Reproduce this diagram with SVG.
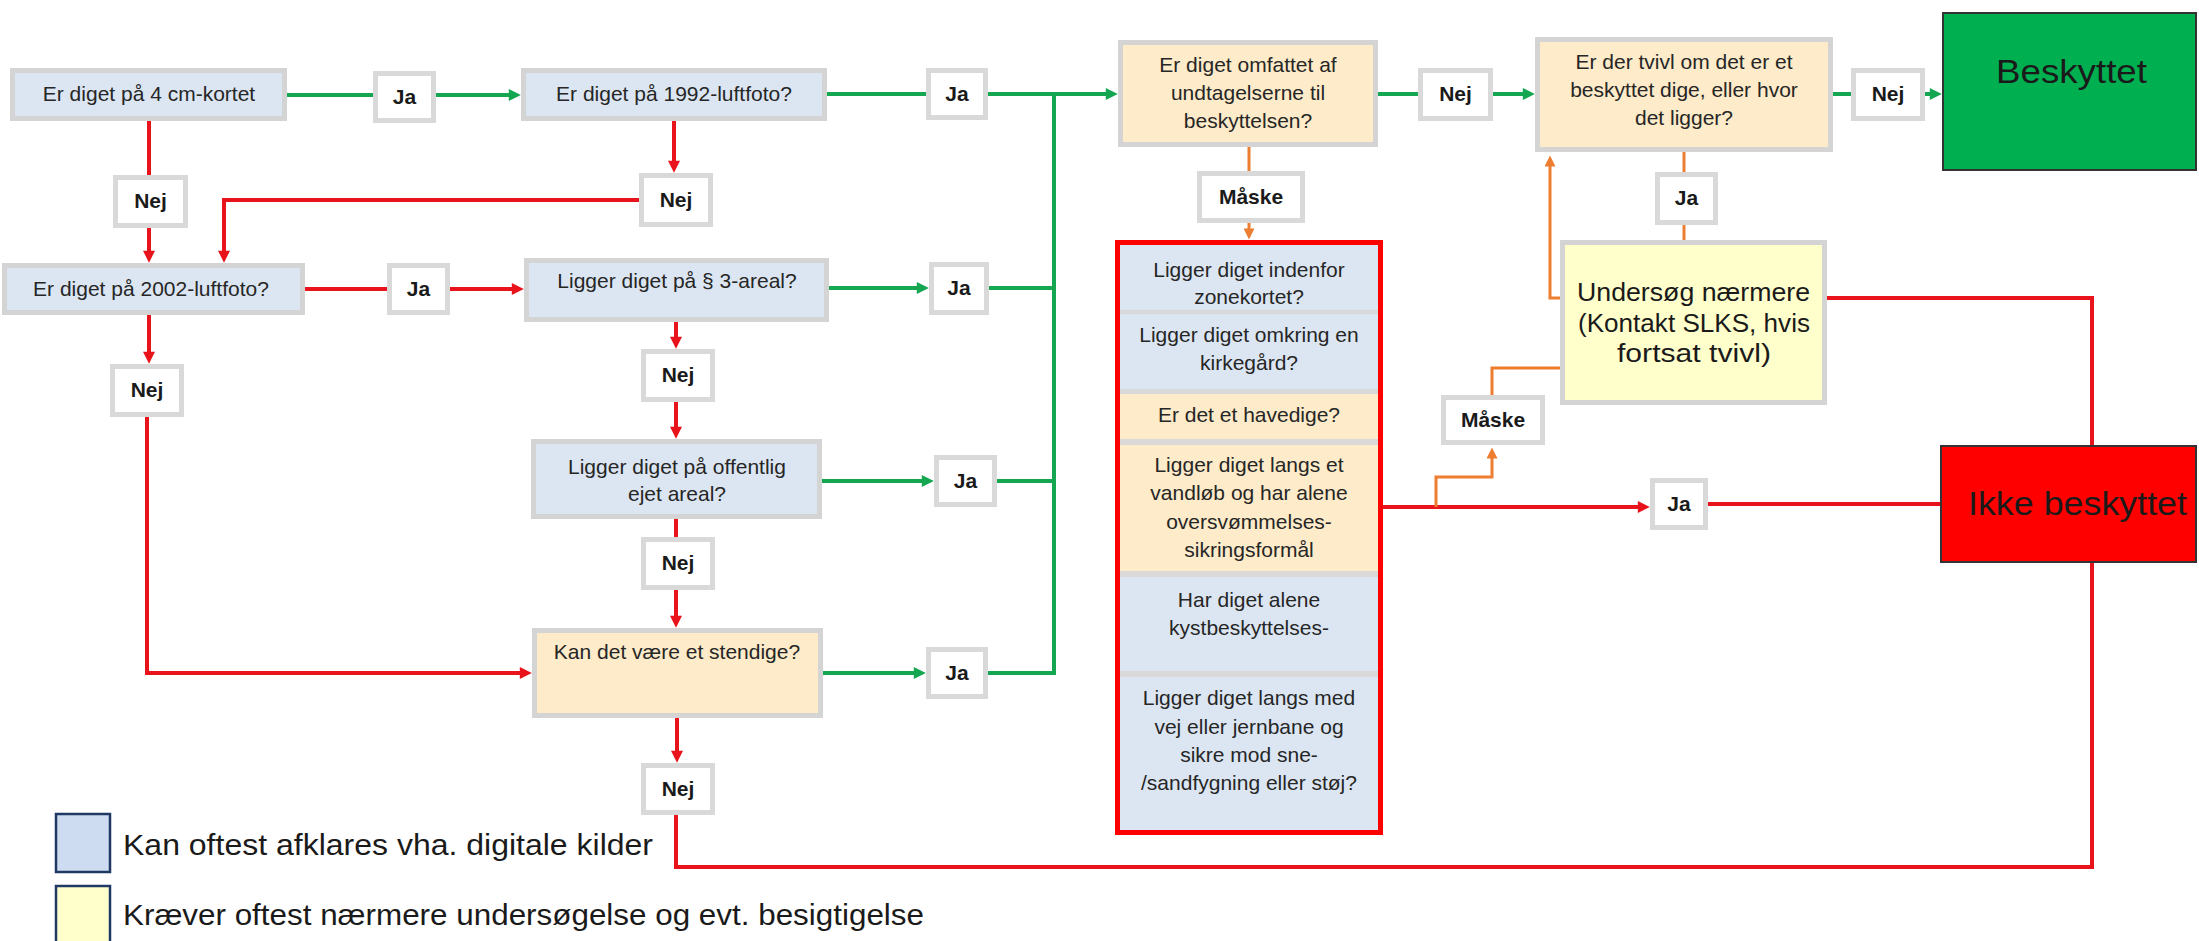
<svg xmlns="http://www.w3.org/2000/svg" width="2199" height="941" viewBox="0 0 2199 941">
<defs>
<style>
.nb{fill:#dce6f2;stroke:#d4d4d4;stroke-width:5}
.ny{fill:#fdebc9;stroke:#d4d4d4;stroke-width:5}
.nu{fill:#ffffcc;stroke:#d4d4d4;stroke-width:5}
.lb{fill:#ffffff;stroke:#d9d9d9;stroke-width:5}
.t{font-family:"Liberation Sans",Arial,sans-serif;font-size:21px;fill:#262626;text-anchor:middle}
.tb{font-family:"Liberation Sans",Arial,sans-serif;font-size:21px;font-weight:bold;fill:#1a1a1a;text-anchor:middle}
.big{font-family:"Liberation Sans",Arial,sans-serif;fill:#1a1a1a}
.g{fill:none;stroke:#14a650;stroke-width:4}
.r{fill:none;stroke:#e8131b;stroke-width:4}
.o{fill:none;stroke:#ed7d31;stroke-width:3}
</style>
<marker id="ag" viewBox="0 0 10 10" refX="6" refY="5" markerWidth="13" markerHeight="12" markerUnits="userSpaceOnUse" orient="auto"><path d="M0,0 L10,5 L0,10 z" fill="#14a650"/></marker>
<marker id="ar" viewBox="0 0 10 10" refX="6" refY="5" markerWidth="13" markerHeight="12" markerUnits="userSpaceOnUse" orient="auto"><path d="M0,0 L10,5 L0,10 z" fill="#e8131b"/></marker>
<marker id="ao" viewBox="0 0 10 10" refX="6" refY="5" markerWidth="12" markerHeight="11" markerUnits="userSpaceOnUse" orient="auto"><path d="M0,0 L10,5 L0,10 z" fill="#ed7d31"/></marker>
</defs>
<rect width="2199" height="941" fill="#ffffff"/>

<g id="connectors">
<path class="g" d="M287,95 H373"/>
<path class="g" d="M436,95 H516" marker-end="url(#ag)"/>
<path class="g" d="M827,94 H926"/>
<path class="g" d="M988,94 H1113" marker-end="url(#ag)"/>
<path class="g" d="M1054,94 V673 H988" stroke-linejoin="miter"/>
<path class="g" d="M829,288 H924" marker-end="url(#ag)"/>
<path class="g" d="M989,288 H1054"/>
<path class="g" d="M822,481 H929" marker-end="url(#ag)"/>
<path class="g" d="M997,481 H1054"/>
<path class="g" d="M823,673 H921" marker-end="url(#ag)"/>
<path class="g" d="M1378,94 H1418"/>
<path class="g" d="M1493,94 H1530" marker-end="url(#ag)"/>
<path class="g" d="M1833,94 H1851"/>
<path class="g" d="M1925,94 H1937" marker-end="url(#ag)"/>

<path class="r" d="M149,121 V175"/>
<path class="r" d="M149,228 V258" marker-end="url(#ar)"/>
<path class="r" d="M674,121 V168" marker-end="url(#ar)"/>
<path class="r" d="M639,200 H224 V258" marker-end="url(#ar)"/>
<path class="r" d="M305,289 H387"/>
<path class="r" d="M450,289 H519" marker-end="url(#ar)"/>
<path class="r" d="M149,315 V359" marker-end="url(#ar)"/>
<path class="r" d="M147,417 V673 H527" marker-end="url(#ar)"/>
<path class="r" d="M676,322 V344" marker-end="url(#ar)"/>
<path class="r" d="M676,402 V434" marker-end="url(#ar)"/>
<path class="r" d="M676,519 V537"/>
<path class="r" d="M676,590 V623" marker-end="url(#ar)"/>
<path class="r" d="M677,718 V758" marker-end="url(#ar)"/>
<path class="r" d="M676,815 V867 H2092 V563"/>
<path class="r" d="M1383,507 H1645" marker-end="url(#ar)"/>
<path class="r" d="M1708,504 H1940"/>
<path class="r" d="M1827,298 H2092 V445"/>

<path class="o" d="M1249,147 V171"/>
<path class="o" d="M1249,223 V235" marker-end="url(#ao)"/>
<path class="o" d="M1684,152 V172"/>
<path class="o" d="M1684,225 V240"/>
<path class="o" d="M1560,298 H1550 V160" marker-end="url(#ao)"/>
<path class="o" d="M1560,368 H1492 V395"/>
<path class="o" d="M1436,507 V477 H1492 V452" marker-end="url(#ao)"/>
</g>

<g id="n-4cm"><rect class="nb" x="12.5" y="70.5" width="272" height="48"/><text class="t" x="149" y="101">Er diget på 4 cm-kortet</text></g>
<g id="n-1992"><rect class="nb" x="523.5" y="70.5" width="301" height="48"/><text class="t" x="674" y="101">Er diget på 1992-luftfoto?</text></g>
<g id="n-2002"><rect class="nb" x="4.5" y="265.5" width="298" height="47"/><text class="t" x="151" y="296">Er diget på 2002-luftfoto?</text></g>
<g id="n-p3"><rect class="nb" x="526.5" y="260.5" width="300" height="59"/><text class="t" x="677" y="288">Ligger diget på § 3-areal?</text></g>
<g id="n-offentlig"><rect class="nb" x="533.5" y="441.5" width="286" height="75"/><text class="t" x="677" y="474">Ligger diget på offentlig</text><text class="t" x="677" y="501">ejet areal?</text></g>
<g id="n-stendige"><rect class="ny" x="534.5" y="630.5" width="286" height="85"/><text class="t" x="677" y="659">Kan det være et stendige?</text></g>
<g id="n-undtagelser"><rect class="ny" x="1120.5" y="42.5" width="255" height="102"/><text class="t" x="1248" y="72">Er diget omfattet af</text><text class="t" x="1248" y="100">undtagelserne til</text><text class="t" x="1248" y="128">beskyttelsen?</text></g>
<g id="n-tvivl"><rect class="ny" x="1537.5" y="39.5" width="293" height="110"/><text class="t" x="1684" y="69">Er der tvivl om det er et</text><text class="t" x="1684" y="97">beskyttet dige, eller hvor</text><text class="t" x="1684" y="125">det ligger?</text></g>
<g id="n-undersoeg"><rect class="nu" x="1562.5" y="242.5" width="262" height="160"/>
<text class="big" font-size="26" x="1577" y="301" textLength="233" lengthAdjust="spacingAndGlyphs">Undersøg nærmere</text>
<text class="big" font-size="26" x="1578" y="332" textLength="232" lengthAdjust="spacingAndGlyphs">(Kontakt SLKS, hvis</text>
<text class="big" font-size="26" x="1617" y="362" textLength="154" lengthAdjust="spacingAndGlyphs">fortsat tvivl)</text></g>
<g id="n-beskyttet"><rect x="1943" y="13" width="253" height="157" fill="#00b050" stroke="#333333" stroke-width="2"/><text class="big" font-size="33" x="1996" y="83" textLength="151" lengthAdjust="spacingAndGlyphs">Beskyttet</text></g>
<g id="n-ikke"><rect x="1941" y="446" width="255" height="116" fill="#ff0000" stroke="#333333" stroke-width="2"/><text class="big" font-size="33" x="1968" y="515" textLength="219" lengthAdjust="spacingAndGlyphs">Ikke beskyttet</text></g>

<g id="n-undtagelsesliste">
<rect x="1117" y="242" width="264" height="591" fill="#d9d9d9"/>
<rect x="1120" y="245" width="258" height="65" fill="#dce6f2"/>
<rect x="1120" y="314" width="258" height="75" fill="#dce6f2"/>
<rect x="1120" y="394" width="258" height="45" fill="#fdebc9"/>
<rect x="1120" y="445" width="258" height="126" fill="#fdebc9"/>
<rect x="1120" y="577" width="258" height="94" fill="#dce6f2"/>
<rect x="1120" y="677" width="258" height="155" fill="#dce6f2"/>
<rect x="1117.5" y="242.5" width="263" height="590" fill="none" stroke="#ff0000" stroke-width="5"/>
<text class="t" x="1249" y="277">Ligger diget indenfor</text><text class="t" x="1249" y="304">zonekortet?</text>
<text class="t" x="1249" y="342">Ligger diget omkring en</text><text class="t" x="1249" y="370">kirkegård?</text>
<text class="t" x="1249" y="422">Er det et havedige?</text>
<text class="t" x="1249" y="472">Ligger diget langs et</text><text class="t" x="1249" y="500">vandløb og har alene</text><text class="t" x="1249" y="529">oversvømmelses-</text><text class="t" x="1249" y="557">sikringsformål</text>
<text class="t" x="1249" y="607">Har diget alene</text><text class="t" x="1249" y="635">kystbeskyttelses-</text>
<text class="t" x="1249" y="705">Ligger diget langs med</text><text class="t" x="1249" y="734">vej eller jernbane og</text><text class="t" x="1249" y="762">sikre mod sne-</text><text class="t" x="1249" y="790">/sandfygning eller støj?</text>
</g>

<g id="l-ja1"><rect class="lb" x="375.5" y="73.5" width="58" height="47"/><text class="tb" x="404.5" y="104">Ja</text></g>
<g id="l-nej1"><rect class="lb" x="115.5" y="177.5" width="70" height="48"/><text class="tb" x="150.5" y="208">Nej</text></g>
<g id="l-nej2"><rect class="lb" x="641.5" y="175.5" width="69" height="49"/><text class="tb" x="676" y="207">Nej</text></g>
<g id="l-ja2"><rect class="lb" x="389.5" y="265.5" width="58" height="47"/><text class="tb" x="418.5" y="296">Ja</text></g>
<g id="l-ja3"><rect class="lb" x="928.5" y="70.5" width="57" height="47"/><text class="tb" x="957" y="101">Ja</text></g>
<g id="l-ja4"><rect class="lb" x="931.5" y="264.5" width="55" height="48"/><text class="tb" x="959" y="295">Ja</text></g>
<g id="l-ja5"><rect class="lb" x="936.5" y="457.5" width="58" height="47"/><text class="tb" x="965.5" y="488">Ja</text></g>
<g id="l-ja6"><rect class="lb" x="928.5" y="649.5" width="57" height="47"/><text class="tb" x="957" y="680">Ja</text></g>
<g id="l-nej3"><rect class="lb" x="112.5" y="366.5" width="69" height="48"/><text class="tb" x="147" y="397">Nej</text></g>
<g id="l-nej4"><rect class="lb" x="643.5" y="351.5" width="69" height="48"/><text class="tb" x="678" y="382">Nej</text></g>
<g id="l-nej5"><rect class="lb" x="643.5" y="539.5" width="69" height="48"/><text class="tb" x="678" y="570">Nej</text></g>
<g id="l-nej6"><rect class="lb" x="643.5" y="765.5" width="69" height="47"/><text class="tb" x="678" y="796">Nej</text></g>
<g id="l-maaske1"><rect class="lb" x="1199.5" y="173.5" width="103" height="47"/><text class="tb" x="1251" y="204">Måske</text></g>
<g id="l-nej7"><rect class="lb" x="1420.5" y="70.5" width="70" height="48"/><text class="tb" x="1455.5" y="101">Nej</text></g>
<g id="l-nej8"><rect class="lb" x="1853.5" y="70.5" width="69" height="48"/><text class="tb" x="1888" y="101">Nej</text></g>
<g id="l-ja7"><rect class="lb" x="1657.5" y="174.5" width="58" height="48"/><text class="tb" x="1686.5" y="205">Ja</text></g>
<g id="l-maaske2"><rect class="lb" x="1443.5" y="397.5" width="99" height="45"/><text class="tb" x="1493" y="427">Måske</text></g>
<g id="l-ja8"><rect class="lb" x="1652.5" y="480.5" width="53" height="47"/><text class="tb" x="1679" y="511">Ja</text></g>

<g id="legend">
<rect x="56" y="814" width="54" height="58" fill="#cddcf0" stroke="#1f3864" stroke-width="2.5"/>
<text class="big" font-size="30" x="123" y="855" textLength="530" lengthAdjust="spacingAndGlyphs">Kan oftest afklares vha. digitale kilder</text>
<rect x="56" y="886" width="54" height="62" fill="#ffffcc" stroke="#1f3864" stroke-width="2.5"/>
<text class="big" font-size="30" x="123" y="925" textLength="801" lengthAdjust="spacingAndGlyphs">Kræver oftest nærmere undersøgelse og evt. besigtigelse</text>
</g>
</svg>
